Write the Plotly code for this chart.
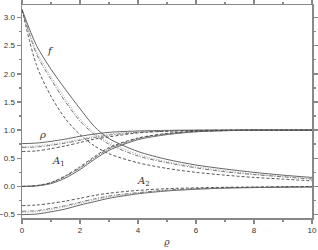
import plotly.graph_objects as go

x = [0, 0.5, 1, 1.5, 2, 2.5, 3, 4, 5, 6, 7, 8, 9, 10]

f_solid = [3.14, 2.50, 2.08, 1.72, 1.38, 1.06, 0.85, 0.62, 0.48, 0.38, 0.31, 0.25, 0.20, 0.16]
f_dot = [3.14, 2.40, 1.95, 1.55, 1.20, 0.95, 0.78, 0.57, 0.44, 0.35, 0.28, 0.22, 0.18, 0.14]
f_dashdot = [3.14, 2.35, 1.90, 1.50, 1.16, 0.92, 0.75, 0.54, 0.42, 0.33, 0.26, 0.21, 0.17, 0.13]
f_dash = [3.14, 2.15, 1.60, 1.20, 0.92, 0.72, 0.58, 0.42, 0.32, 0.25, 0.20, 0.16, 0.13, 0.10]

rho_solid = [0.76, 0.77, 0.80, 0.84, 0.89, 0.93, 0.96, 0.985, 0.995, 1.0, 1.0, 1.0, 1.0, 1.0]
rho_dot = [0.71, 0.72, 0.75, 0.79, 0.84, 0.89, 0.93, 0.97, 0.99, 0.997, 1.0, 1.0, 1.0, 1.0]
rho_dashdot = [0.69, 0.70, 0.73, 0.77, 0.82, 0.87, 0.91, 0.96, 0.98, 0.995, 1.0, 1.0, 1.0, 1.0]
rho_dash = [0.62, 0.63, 0.67, 0.72, 0.78, 0.84, 0.88, 0.95, 0.98, 0.99, 0.997, 1.0, 1.0, 1.0]

a1_solid = [0.0, 0.01, 0.05, 0.15, 0.30, 0.48, 0.64, 0.83, 0.92, 0.97, 0.99, 1.0, 1.0, 1.0]
a1_dot = [0.0, 0.012, 0.06, 0.17, 0.32, 0.50, 0.66, 0.84, 0.93, 0.97, 0.99, 1.0, 1.0, 1.0]
a1_dashdot = [0.0, 0.013, 0.065, 0.18, 0.33, 0.51, 0.67, 0.85, 0.935, 0.975, 0.99, 1.0, 1.0, 1.0]
a1_dash = [0.0, 0.015, 0.07, 0.19, 0.35, 0.53, 0.69, 0.86, 0.94, 0.98, 0.995, 1.0, 1.0, 1.0]

a2_solid = [-0.50, -0.49, -0.45, -0.40, -0.33, -0.27, -0.21, -0.13, -0.08, -0.05, -0.03, -0.02, -0.015, -0.01]
a2_dot = [-0.46, -0.45, -0.41, -0.36, -0.30, -0.24, -0.19, -0.12, -0.07, -0.045, -0.03, -0.02, -0.012, -0.008]
a2_dashdot = [-0.44, -0.43, -0.39, -0.34, -0.28, -0.22, -0.17, -0.11, -0.065, -0.04, -0.025, -0.015, -0.01, -0.006]
a2_dash = [-0.34, -0.33, -0.30, -0.26, -0.21, -0.16, -0.12, -0.07, -0.04, -0.025, -0.015, -0.01, -0.005, 0.0]

styles = [
    ("solid", "#555555", 0.9),
    ("1px,1.5px", "#9a9a9a", 0.9),
    ("4px,1.5px,1px,1.5px", "#666666", 0.9),
    ("3px,2px", "#444444", 0.9),
]

families = [
    [f_solid, f_dot, f_dashdot, f_dash],
    [rho_solid, rho_dot, rho_dashdot, rho_dash],
    [a1_solid, a1_dot, a1_dashdot, a1_dash],
    [a2_solid, a2_dot, a2_dashdot, a2_dash],
]

fig = go.Figure()
for fam in families:
    for ys, (dash, col, w) in zip(fam, styles):
        fig.add_trace(go.Scatter(x=x, y=ys, mode="lines", line=dict(shape="spline", smoothing=0.8,
                                 dash=dash, color=col, width=w), showlegend=False, hoverinfo="skip"))

labels = [
    (0.97, 2.42, "<i>f</i>"),
    (0.69, 0.93, "<i>ρ</i>"),
    (1.25, 0.45, "<i>A</i><sub>1</sub>"),
    (4.2, 0.09, "<i>A</i><sub>2</sub>"),
]
for lx, ly, t in labels:
    fig.add_annotation(x=lx, y=ly, text=t, showarrow=False,
                       font=dict(family="DejaVu Serif", size=10, color="#333333"))

axis_common = dict(showline=True, linecolor="#888888", linewidth=1.5, mirror="ticks",
                   ticks="outside", ticklen=4, tickcolor="#888888", tickwidth=1.5,
                   showgrid=False, zeroline=False, automargin=False,
                   tickfont=dict(family="Liberation Sans", size=8, color="#333333"))

fig.update_layout(
    width=318, height=250,
    margin=dict(l=22, r=6, t=5, b=32),
    paper_bgcolor="white", plot_bgcolor="white",
    xaxis=dict(range=[0, 10], tickvals=[0, 2, 4, 6, 8, 10],
               minor=dict(tickvals=[1, 3, 5, 7, 9], ticks="outside", ticklen=2, tickcolor="#888888"),
               title=dict(text="<i>ϱ</i>", font=dict(family="DejaVu Serif", size=9, color="#333333"), standoff=4),
               **axis_common),
    yaxis=dict(range=[-0.56, 3.22], tickvals=[-0.5, 0, 0.5, 1, 1.5, 2, 2.5, 3], tickformat=".1f",
               minor=dict(tickvals=[-0.25, 0.25, 0.75, 1.25, 1.75, 2.25, 2.75], ticks="outside", ticklen=2, tickcolor="#888888"),
               **axis_common),
)

fig.write_html("out.html", config={"displayModeBar": False, "staticPlot": True},
               post_script="document.body.style.margin='0';document.body.style.overflow='hidden';")
